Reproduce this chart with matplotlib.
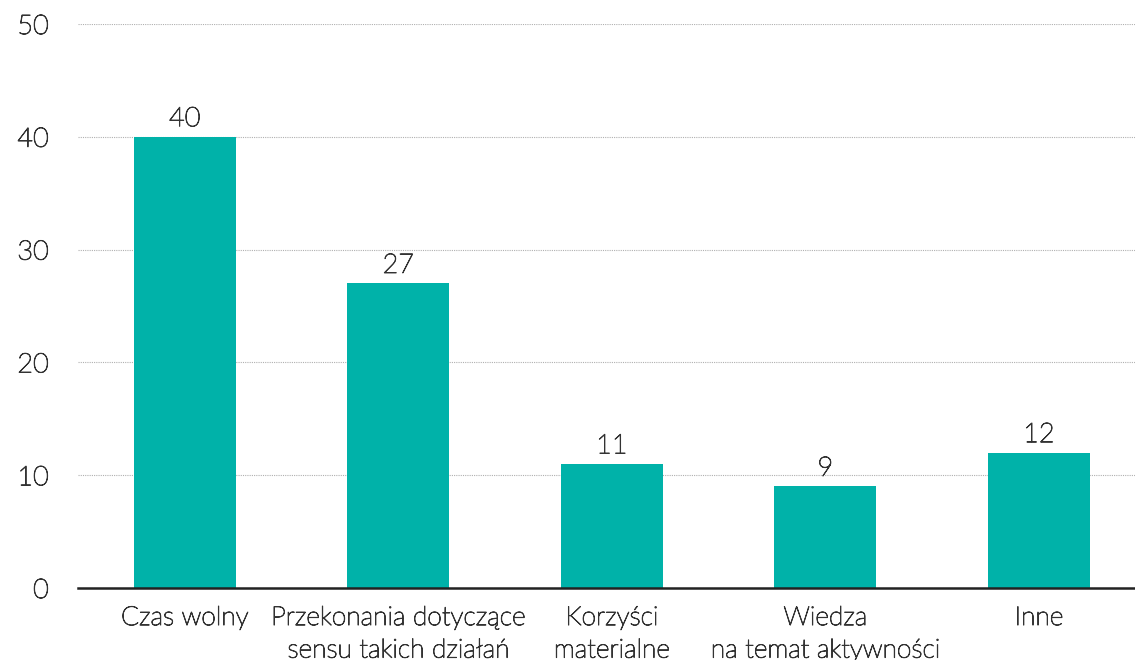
import matplotlib
matplotlib.use("Agg")
import matplotlib.pyplot as plt
import matplotlib.patheffects as pe
import numpy as np

categories = [
    "Czas wolny",
    "Przekonania dotyczące\nsensu takich działań",
    "Korzyści\nmaterialne",
    "Wiedza\nna temat aktywności",
    "Inne",
]
values = [40, 27, 11, 9, 12]
y_ticks = [0, 10, 20, 30, 40, 50]

plt.rcParams["font.family"] = ["Lato", "DejaVu Sans"]
text_color = "#333333"
weight = "light"
# light face is a bit too thin, thicken it slightly
thicken = [pe.withStroke(linewidth=0.7, foreground=text_color)]

fig = plt.figure(figsize=(11.35, 6.6), dpi=100, facecolor="white")
ax = fig.add_axes([78 / 1135, 72 / 660, 1 - 78 / 1135, 564 / 660])

x = np.arange(len(categories))
bars = ax.bar(x, values, width=0.478, color="#00B2A9", zorder=2)

for xi, v in zip(x, values):
    ax.annotate(str(v), (xi, v), xytext=(0, 4), textcoords="offset points",
                ha="center", va="bottom", fontsize=19.5, color=text_color,
                fontweight=weight, path_effects=thicken)

ax.set_xlim(-0.5, 4.45)
ax.set_ylim(0, 50)
ax.set_yticks(y_ticks)
ax.set_xticks(x)
ax.set_xticklabels(categories, fontsize=19, color=text_color,
                   fontweight=weight, linespacing=1.45)
for lbl in ax.get_xticklabels() + ax.get_yticklabels():
    lbl.set_path_effects(thicken)
for lbl in ax.get_yticklabels():
    lbl.set_fontsize(19.5)
    lbl.set_color(text_color)
    lbl.set_fontweight(weight)

ax.tick_params(axis="both", length=0)
ax.tick_params(axis="y", pad=21)
ax.tick_params(axis="x", pad=13)
ax.yaxis.grid(True, color="#b0b0b0", linestyle=(0, (1, 1)), linewidth=0.8, zorder=0)
ax.set_axisbelow(True)

for spine in ("top", "right", "left"):
    ax.spines[spine].set_visible(False)
ax.spines["bottom"].set_color("#222222")
ax.spines["bottom"].set_linewidth(1.8)
ax.spines["bottom"].set_zorder(3)

fig.savefig("out.png", dpi=100, facecolor="white")
